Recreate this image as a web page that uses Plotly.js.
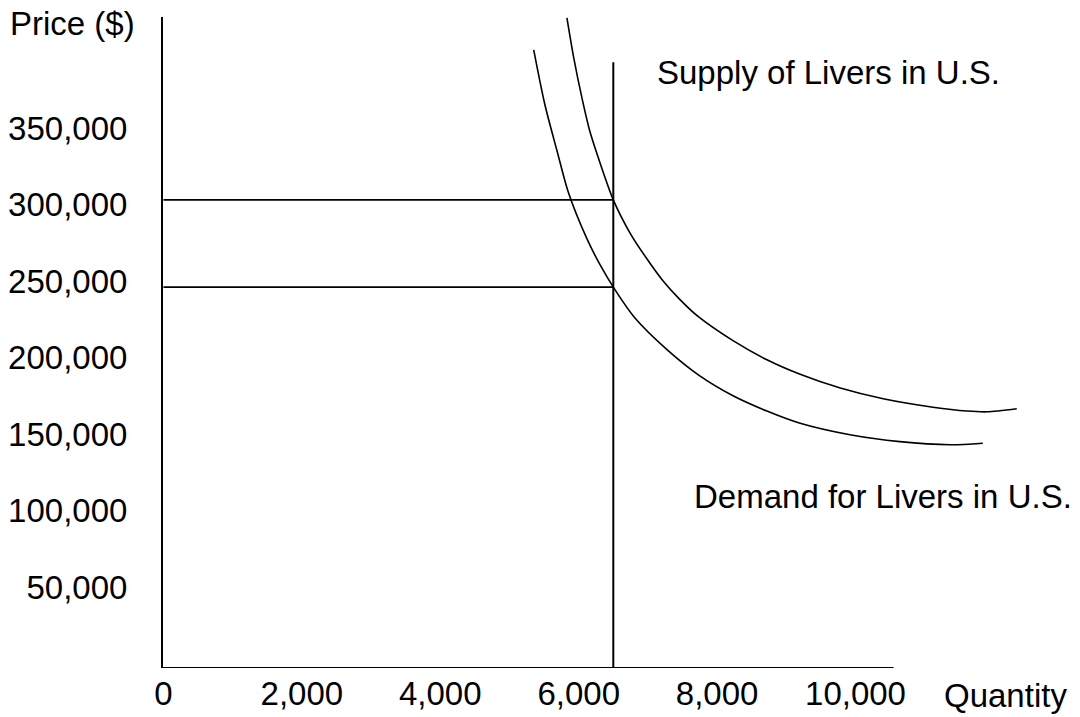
<!DOCTYPE html>
<html>
<head>
<meta charset="utf-8">
<script src="https://cdn.plot.ly/plotly-3.0.1.min.js"></script>
<style>html,body{margin:0;padding:0;background:#fff;}#chart{width:1080px;height:717px;}</style>
</head>
<body>
<div id="chart"></div>
<script>
// ---- data ----
const quantityTicks = [0, 2000, 4000, 6000, 8000, 10000];
const quantityTickText = ['0', '2,000', '4,000', '6,000', '8,000', '10,000'];
const priceTicks = [50000, 100000, 150000, 200000, 250000, 300000, 350000];
const priceTickText = ['50,000', '100,000', '150,000', '200,000', '250,000', '300,000', '350,000'];

// upper demand curve
const demandHighQ = [5830, 5930, 6050, 6160, 6280, 6500, 6740, 6970, 7220, 7460, 7720, 8230, 8720, 9200, 9780, 10400, 11120, 11610, 11900, 12330];
const demandHighP = [422000, 395500, 369000, 348000, 331000, 303000, 281500, 265500, 250000, 238000, 227000, 211000, 198500, 189000, 180000, 173000, 167500, 165000, 164500, 166500];
// lower demand curve
const demandLowQ = [5350, 5510, 5690, 5850, 6120, 6310, 6500, 6810, 7280, 7750, 8230, 8720, 9200, 9920, 10640, 11370, 11840];
const demandLowP = [401000, 365500, 334500, 308000, 277500, 260500, 246000, 226000, 205000, 188000, 175000, 165000, 157000, 149500, 145000, 143000, 144000];

// fixed supply and price levels
const supplyQ = 6500;
const supplyTopP = 393000;
const priceHigh = 303000;
const priceLow = 246000;
const axisEndQ = 10550;

const xRange = [-7, 12666];
const yRange = [-2941, 422550];

const FONT = 'Liberation Sans, Arial, Helvetica, sans-serif';
const black = '#000000';

const traces = [
  {x: demandHighQ, y: demandHighP, mode: 'lines', line: {color: black, width: 1.6, shape: 'spline', smoothing: 0.8}, hoverinfo: 'skip'},
  {x: demandLowQ, y: demandLowP, mode: 'lines', line: {color: black, width: 1.6, shape: 'spline', smoothing: 0.8}, hoverinfo: 'skip'},
  {x: [supplyQ, supplyQ], y: [yRange[0], supplyTopP], mode: 'lines', line: {color: black, width: 2}, hoverinfo: 'skip'},
  {x: [0, supplyQ], y: [priceHigh, priceHigh], mode: 'lines', line: {color: black, width: 1.6}, hoverinfo: 'skip'},
  {x: [0, supplyQ], y: [priceLow, priceLow], mode: 'lines', line: {color: black, width: 1.6}, hoverinfo: 'skip'}
];

const M = {l: 163, r: 40, t: 17, b: 49};
const W = 1080, H = 717;
const pw = W - M.l - M.r, ph = H - M.t - M.b;
const px = v => (v - M.l) / pw;
const py = v => (H - M.b - v) / ph;

const FS = 33;
const annFont = {family: FONT, size: FS, color: black};
const layout = {
  width: W, height: H,
  margin: M,
  paper_bgcolor: '#ffffff', plot_bgcolor: '#ffffff',
  showlegend: false,
  font: {family: FONT, size: FS, color: black},
  xaxis: {
    range: xRange, showgrid: false, zeroline: false, showline: false,
    tickvals: quantityTicks, ticktext: quantityTickText, ticks: '',
    tickfont: {family: FONT, size: FS, color: black}, ticklabelstandoff: 3
  },
  yaxis: {
    range: yRange, showgrid: false, zeroline: false,
    showline: true, linecolor: black, linewidth: 2,
    tickvals: priceTicks, ticktext: priceTickText, ticks: '',
    tickfont: {family: FONT, size: FS, color: black}, ticklabelstandoff: 27
  },
  shapes: [
    {type: 'line', xref: 'x', yref: 'y', x0: xRange[0], x1: axisEndQ, y0: yRange[0], y1: yRange[0], line: {color: black, width: 2}}
  ],
  annotations: [
    {text: 'Price ($)', xref: 'paper', yref: 'paper', x: px(8), y: py(24), xanchor: 'left', yanchor: 'middle', showarrow: false, font: annFont},
    {text: 'Supply of Livers in U.S.', xref: 'paper', yref: 'paper', x: px(655), y: py(72), xanchor: 'left', yanchor: 'middle', showarrow: false, font: annFont},
    {text: 'Demand for Livers in U.S.', xref: 'paper', yref: 'paper', x: px(692), y: py(496), xanchor: 'left', yanchor: 'middle', showarrow: false, font: annFont},
    {text: 'Quantity', xref: 'paper', yref: 'paper', x: px(942), y: py(695), xanchor: 'left', yanchor: 'middle', showarrow: false, font: annFont}
  ]
};

Plotly.newPlot('chart', traces, layout, {staticPlot: true, displayModeBar: false});
</script>
</body>
</html>
